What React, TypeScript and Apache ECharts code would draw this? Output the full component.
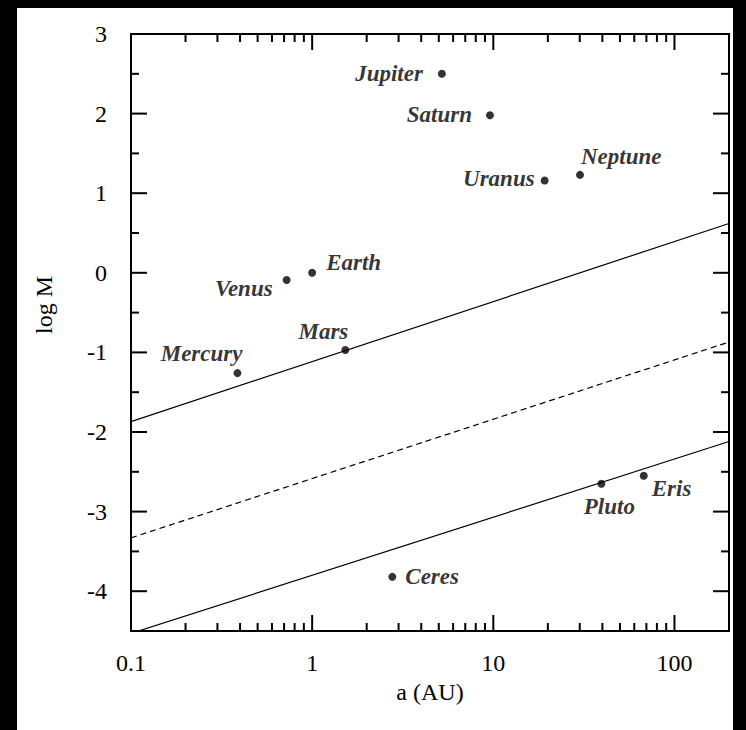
import React, { useEffect, useRef } from "react";
import * as echarts from "echarts";

// ---- data ----
const planetNames = ["Mercury", "Venus", "Earth", "Mars", "Ceres", "Jupiter", "Saturn", "Uranus", "Neptune", "Pluto", "Eris"];
const semiMajorAxisAU = [0.387, 0.723, 1.0, 1.524, 2.77, 5.2, 9.58, 19.2, 30.1, 39.5, 67.7];
const logMass = [-1.26, -0.09, 0.0, -0.97, -3.82, 2.5, 1.98, 1.16, 1.23, -2.65, -2.55];

const upperLine = [[0.1, -1.87], [200, 0.62]];
const dashedLine = [[0.1, -3.33], [200, -0.87]];
const lowerLine = [[0.1, -4.53], [200, -2.12]];

const xDecadeLabels = [0.1, 1, 10, 100];
const xMinorTicks = [0.2, 0.3, 0.4, 0.5, 0.6, 0.7, 0.8, 0.9, 2, 3, 4, 5, 6, 7, 8, 9, 20, 30, 40, 50, 60, 70, 80, 90];
const yMajorTicks = [-4, -3, -2, -1, 0, 1, 2, 3];
const yMinorTicks = [-3.5, -2.5, -1.5, -0.5, 0.5, 1.5, 2.5];

const xAxisTitle = "a (AU)";
const yAxisTitle = "log M";

const X_MIN = 0.1, X_MAX = 200, Y_MIN = -4.5, Y_MAX = 3;

// label placement (offset from dot centre, px)
const labelPlacement: Record<string, { align: string; dx: number; dy: number }> = {
  Mercury: { align: "right", dx: 5, dy: -20 },
  Venus: { align: "right", dx: -14, dy: 9 },
  Earth: { align: "left", dx: 14, dy: -10 },
  Mars: { align: "right", dx: 3, dy: -19 },
  Ceres: { align: "left", dx: 13, dy: 0 },
  Jupiter: { align: "right", dx: -19, dy: 0 },
  Saturn: { align: "right", dx: -18, dy: -1 },
  Uranus: { align: "right", dx: -10, dy: -2 },
  Neptune: { align: "left", dx: 1, dy: -18 },
  Pluto: { align: "center", dx: 8, dy: 23 },
  Eris: { align: "left", dx: 8, dy: 13 },
};

const FONT = "'Liberation Serif', 'DejaVu Serif', serif";

export default function App() {
  const ref = useRef<HTMLDivElement>(null);
  useEffect(() => {
    document.body.style.margin = "0";
    const chart = echarts.init(ref.current!, null, { renderer: "svg" });

    const tickSeries = (isX: boolean, values: number[], major: boolean) => ({
      type: "custom",
      coordinateSystem: "cartesian2d",
      silent: true,
      clip: false,
      data: values.map((v) => (isX ? [v, Y_MIN] : [X_MIN, v])),
      renderItem: (_p: any, api: any) => {
        const v = api.value(isX ? 0 : 1);
        const len = major ? 16 : 8;
        const style = { stroke: "#000", lineWidth: 2 };
        if (isX) {
          const b = api.coord([v, Y_MIN]);
          const t = api.coord([v, Y_MAX]);
          return {
            type: "group",
            children: [
              { type: "line", shape: { x1: b[0], y1: b[1], x2: b[0], y2: b[1] - len }, style },
              { type: "line", shape: { x1: t[0], y1: t[1], x2: t[0], y2: t[1] + len }, style },
            ],
          };
        }
        const l = api.coord([X_MIN, v]);
        const r = api.coord([X_MAX, v]);
        return {
          type: "group",
          children: [
            { type: "line", shape: { x1: l[0], y1: l[1], x2: l[0] + len, y2: l[1] }, style },
            { type: "line", shape: { x1: r[0], y1: r[1], x2: r[0] - len, y2: r[1] }, style },
          ],
        };
      },
    });

    const lineSeries = (data: number[][], dashed: boolean) => ({
      type: "line",
      data,
      showSymbol: false,
      silent: true,
      clip: true,
      lineStyle: { color: "#000", width: 1.2, type: dashed ? [6, 4] : "solid" },
    });

    chart.setOption({
      animation: false,
      backgroundColor: "transparent",
      grid: { left: 131, top: 34, width: 598, height: 597, show: true, borderColor: "#000", borderWidth: 2, backgroundColor: "transparent" },
      graphic: [
        {
          type: "text",
          x: 44,
          y: 305,
          rotation: Math.PI / 2,
          style: { text: yAxisTitle, fontFamily: FONT, fontSize: 24, fill: "#000", align: "center", verticalAlign: "middle" },
        },
      ],
      xAxis: {
        type: "log",
        logBase: 10,
        min: X_MIN,
        max: X_MAX,
        name: xAxisTitle,
        nameLocation: "middle",
        nameGap: 49,
        nameTextStyle: { fontFamily: FONT, fontSize: 24, color: "#000" },
        axisLine: { show: false },
        axisTick: { show: false },
        splitLine: { show: false },
        axisLabel: {
          margin: 20,
          fontFamily: FONT,
          fontSize: 24,
          color: "#000",
          formatter: (v: number) => {
            const d = xDecadeLabels.find((x) => Math.abs(v - x) / x < 1e-6);
            return d === undefined ? "" : String(d);
          },
        },
      },
      yAxis: {
        type: "value",
        min: Y_MIN,
        max: Y_MAX,
        interval: 0.5,
        axisLine: { show: false },
        axisTick: { show: false },
        splitLine: { show: false },
        axisLabel: {
          margin: 24,
          fontFamily: FONT,
          fontSize: 24,
          color: "#000",
          formatter: (v: number) => (Number.isInteger(v) && yMajorTicks.includes(v) ? String(v) : ""),
        },
      },
      series: [
        tickSeries(true, xDecadeLabels, true),
        tickSeries(true, xMinorTicks, false),
        tickSeries(false, yMajorTicks, true),
        tickSeries(false, yMinorTicks, false),
        lineSeries(upperLine, false),
        lineSeries(dashedLine, true),
        lineSeries(lowerLine, false),
        {
          type: "scatter",
          symbol: "circle",
          symbolSize: 8,
          itemStyle: { color: "#000" },
          data: planetNames.map((n, i) => {
            const p = labelPlacement[n];
            return {
              name: n,
              value: [semiMajorAxisAU[i], logMass[i]],
              label: {
                show: true,
                formatter: n,
                position: "inside",
                offset: [p.dx, p.dy],
                align: p.align,
                verticalAlign: "middle",
                fontFamily: FONT,
                fontSize: 23,
                fontWeight: "bold",
                fontStyle: "italic",
                color: "#000",
              },
            };
          }),
        },
      ],
    });
    return () => chart.dispose();
  }, []);

  return (
    <div style={{ position: "fixed", left: 0, top: 0, width: 746, height: 730, background: "#000" }}>
      <div style={{ position: "absolute", left: 17, top: 8, width: 716, height: 722, background: "#fff" }} />
      <div ref={ref} style={{ position: "absolute", left: 0, top: 0, width: 746, height: 730 }} />
    </div>
  );
}
